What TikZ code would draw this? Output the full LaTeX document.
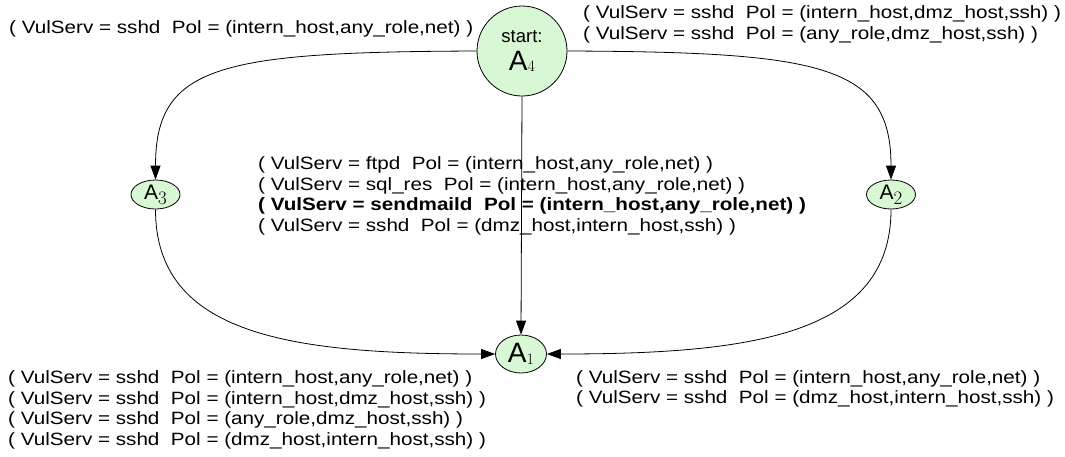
\documentclass[tikz,border=0pt]{standalone}
\usepackage{fontspec}
\setmainfont{Liberation Sans}
\newfontfamily\lblfont[FakeStretch=1.16]{Liberation Sans}
\newfontfamily\lmr{Latin Modern Roman}
\usetikzlibrary{arrows.meta,shapes.geometric}
\definecolor{statefill}{RGB}{216,247,212}

% state name with a serif subscript digit
\newcommand\stname[4]{{\fontsize{#2}{#2}\selectfont A}\raisebox{-#4}{\lmr\fontsize{#3}{#3}\selectfont #1}}

\tikzset{
  state/.style={draw=black, fill=statefill, line width=0.8pt, inner sep=0pt},
  lbl/.style={font=\lblfont\fontsize{17.8}{20.5}\selectfont, align=left, inner sep=0pt, anchor=base west},
  trans/.style={draw=black, line width=0.8pt, -{Triangle[length=14pt,width=10pt]}}
}

\begin{document}
\begin{tikzpicture}[x=1pt,y=-1pt]
\useasboundingbox (0,0) rectangle (1065,456);

% states
\node[state, circle, minimum size=90pt, align=center] (A4) at (522,51)
  {\fontsize{18.5}{18.5}\selectfont start:\\[8pt]\stname{4}{28}{16}{1.5pt}};
\node[state, ellipse, minimum width=49pt, minimum height=29pt] (A3) at (155.5,194.5)
  {\stname{3}{21}{19}{5pt}};
\node[state, ellipse, minimum width=49pt, minimum height=29pt] (A2) at (891,194.5)
  {\stname{2}{21}{19}{5pt}};
\node[state, ellipse, minimum width=51pt, minimum height=38pt] (A1) at (521,354)
  {\stname{1}{28}{16}{2.5pt}};

% transitions
\draw[trans] (A4.west) .. controls (220,52) and (155.5,65) .. (A3.north);
\draw[trans] (A4.east) .. controls (822,52) and (891,65) .. (A2.north);
\draw[trans] (A4.south) -- (A1.north);
\draw[trans] (A3.south) .. controls (155.5,335) and (290,354) .. (A1.west);
\draw[trans] (A2.south) .. controls (891,335) and (752,354) .. (A1.east);

% transition labels (anchored at the baseline of their last line)
\node[lbl] (l43) at (9,33)
  {( VulServ = sshd\ \ Pol = (intern\_host,any\_role,net) )};
\node[lbl] (l42) at (583,39)
  {( VulServ = sshd\ \ Pol = (intern\_host,dmz\_host,ssh) )\\
   ( VulServ = sshd\ \ Pol = (any\_role,dmz\_host,ssh) )};
\node[lbl] (l41) at (258,231)
  {( VulServ = ftpd\ \ Pol = (intern\_host,any\_role,net) )\\
   ( VulServ = sql\_res\ \ Pol = (intern\_host,any\_role,net) )\\
   \textbf{( VulServ = sendmaild\ \ Pol = (intern\_host,any\_role,net) )}\\
   ( VulServ = sshd\ \ Pol = (dmz\_host,intern\_host,ssh) )};
\node[lbl] (l31) at (8,445)
  {( VulServ = sshd\ \ Pol = (intern\_host,any\_role,net) )\\
   ( VulServ = sshd\ \ Pol = (intern\_host,dmz\_host,ssh) )\\
   ( VulServ = sshd\ \ Pol = (any\_role,dmz\_host,ssh) )\\
   ( VulServ = sshd\ \ Pol = (dmz\_host,intern\_host,ssh) )};
\node[lbl] (l21) at (576,403.5)
  {( VulServ = sshd\ \ Pol = (intern\_host,any\_role,net) )\\
   ( VulServ = sshd\ \ Pol = (dmz\_host,intern\_host,ssh) )};
\end{tikzpicture}
\end{document}
